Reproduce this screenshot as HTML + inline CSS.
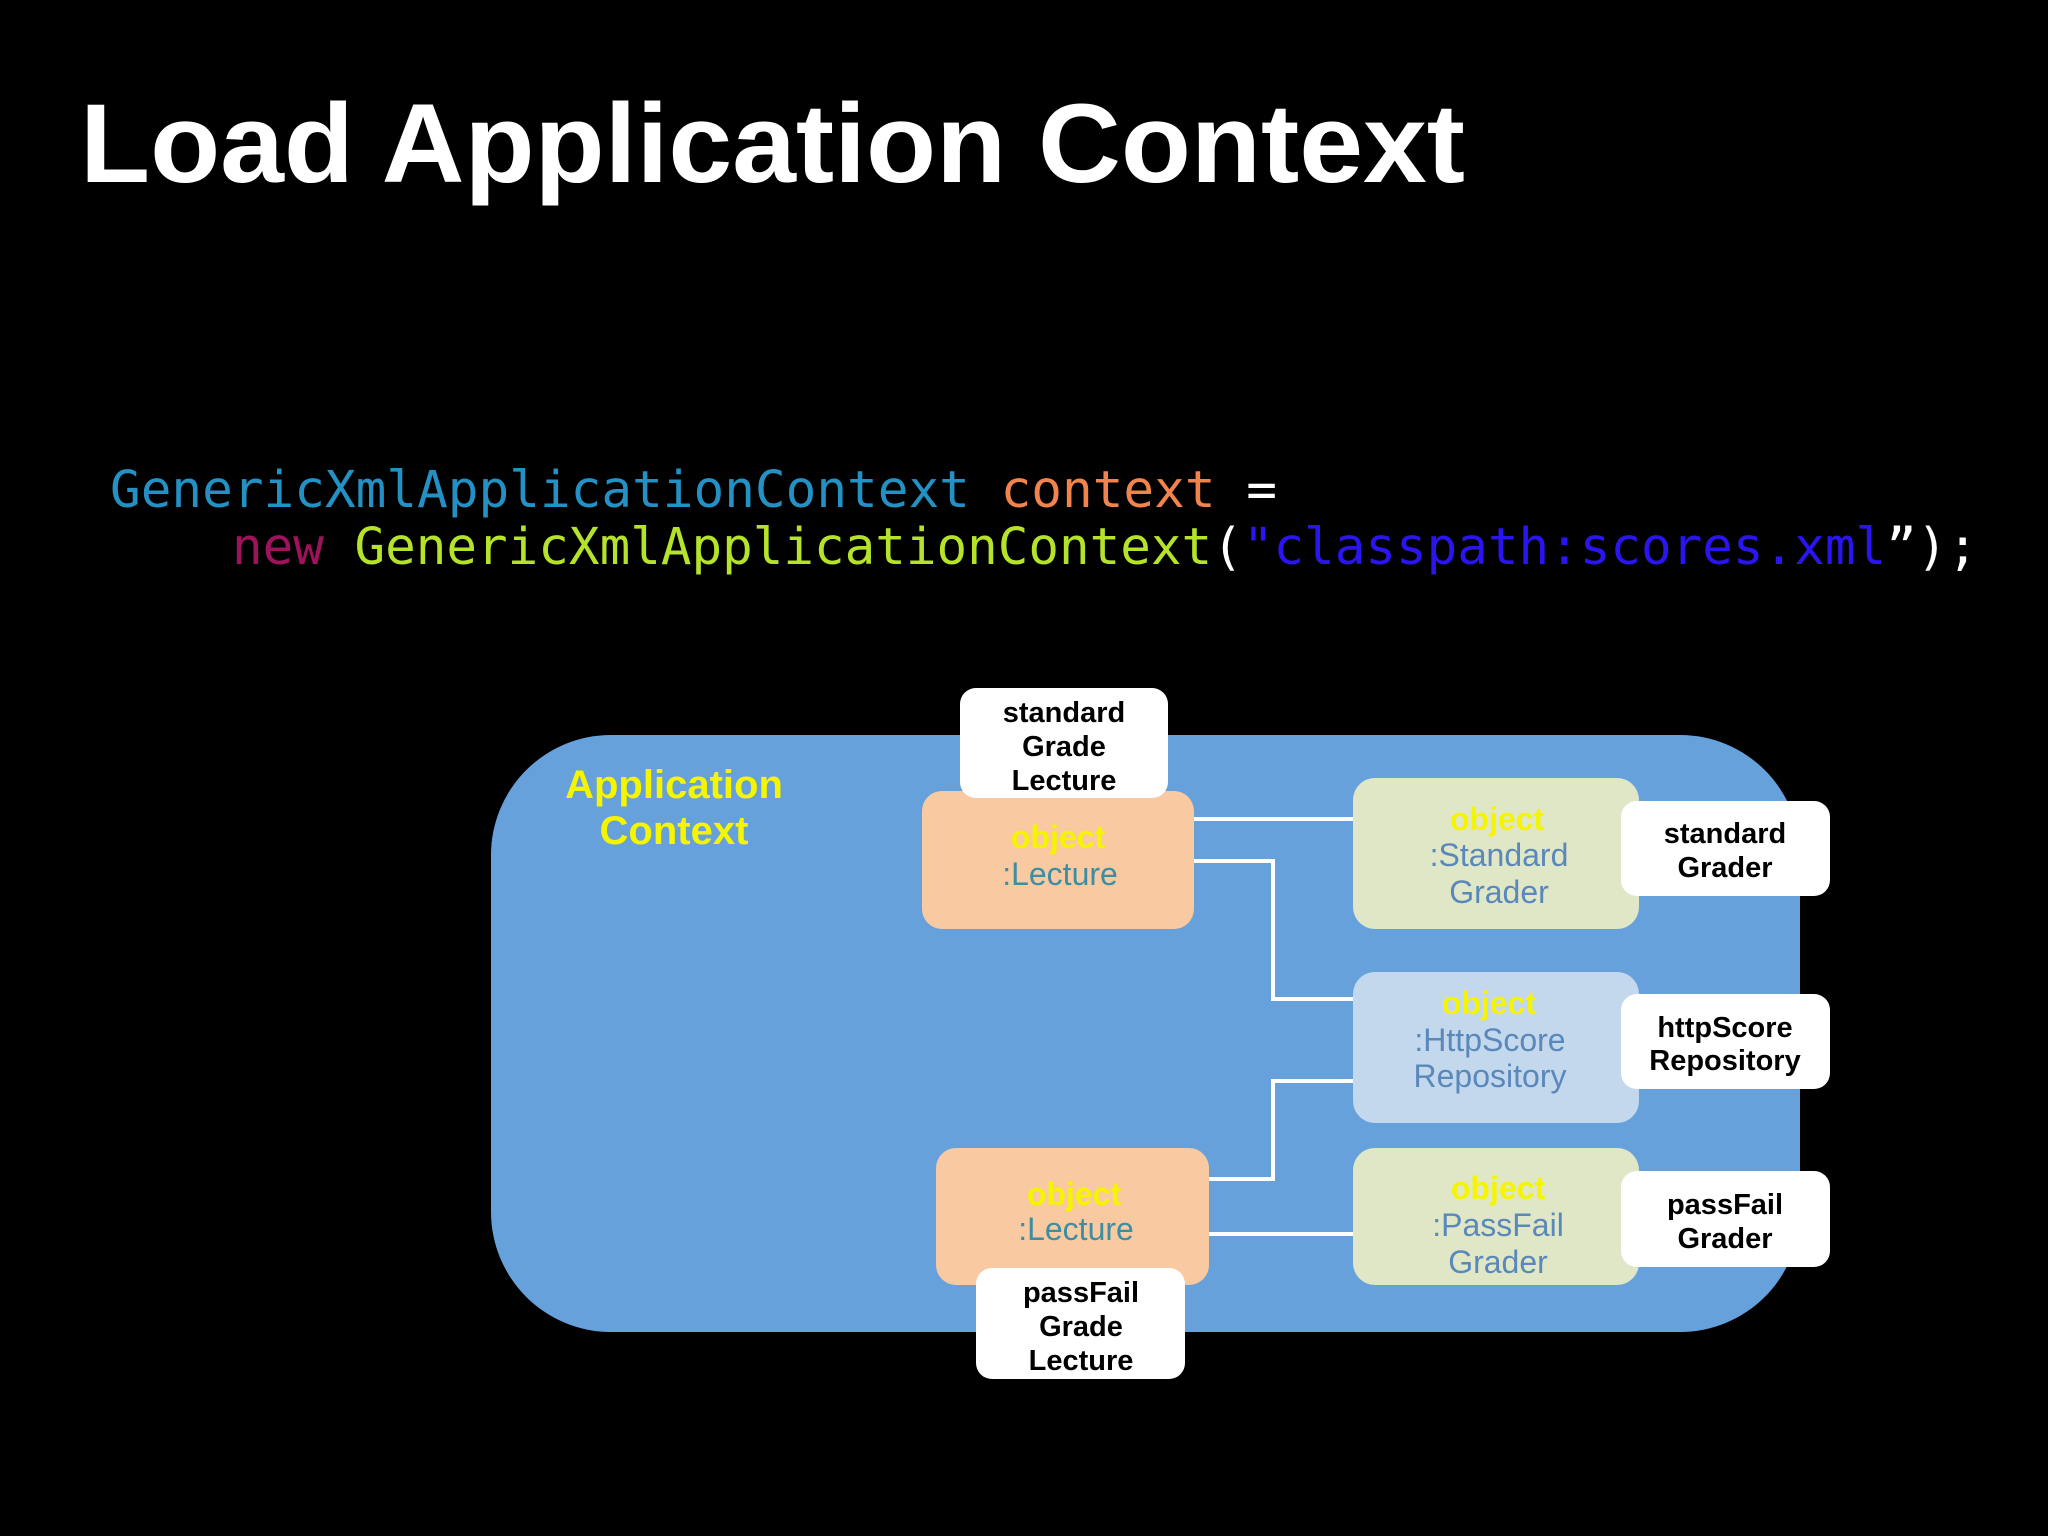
<!DOCTYPE html>
<html><head><meta charset="utf-8"><style>html,body{margin:0;padding:0;background:#000;}svg{display:block}</style></head>
<body>
<svg width="2048" height="1536" viewBox="0 0 2048 1536" xmlns="http://www.w3.org/2000/svg">
<rect width="2048" height="1536" fill="#000"/>
<text x="80" y="182" font-family="Liberation Sans, sans-serif" font-weight="bold" font-size="112" fill="#fff" textLength="1385" lengthAdjust="spacingAndGlyphs">Load Application Context</text>
<g font-family="DejaVu Sans Mono, monospace" font-size="51">
<text x="110" y="507" textLength="1167" lengthAdjust="spacingAndGlyphs" xml:space="preserve"><tspan fill="#2391c4">GenericXmlApplicationContext</tspan><tspan fill="#f0844c"> context</tspan><tspan fill="#fff"> =</tspan></text>
<text x="232" y="564" textLength="1746" lengthAdjust="spacingAndGlyphs" xml:space="preserve"><tspan fill="#a0125c">new</tspan><tspan fill="#b4e32a"> GenericXmlApplicationContext</tspan><tspan fill="#fff">(</tspan><tspan fill="#2a14f0">"classpath:scores.xml</tspan><tspan fill="#fff">”);</tspan></text>
</g>
<rect x="491" y="735" width="1309" height="597" rx="120" fill="#66a1dc"/>
<g font-family="Liberation Sans, sans-serif" font-weight="bold" text-anchor="middle">
<text x="674" y="798" font-size="40" fill="#f5f500">Application</text>
<text x="674" y="844" font-size="40" fill="#f5f500">Context</text>
<g stroke="#fff" stroke-width="4" fill="none">
<line x1="1194" y1="819" x2="1353" y2="819"/>
<polyline points="1194,861 1273,861 1273,999 1353,999"/>
<polyline points="1209,1179 1273,1179 1273,1081 1353,1081"/>
<line x1="1209" y1="1234" x2="1353" y2="1234"/>
</g>
<rect x="922" y="791" width="272" height="138" rx="20" fill="#f9c9a1"/>
<text x="1058" y="848" font-size="32" fill="#f5f500">object</text>
<text x="1060" y="885" font-size="32" fill="#3c8ea3" font-weight="500">:Lecture</text>
<rect x="936" y="1148" width="273" height="137" rx="20" fill="#f9c9a1"/>
<text x="1074" y="1205" font-size="32" fill="#f5f500">object</text>
<text x="1076" y="1240" font-size="32" fill="#3c8ea3" font-weight="500">:Lecture</text>
<rect x="1353" y="778" width="286" height="151" rx="22" fill="#dfe7c7"/>
<text x="1497" y="830" font-size="32" fill="#f5f500">object</text>
<text x="1499" y="866" font-size="32" fill="#5a88bb" font-weight="500">:Standard</text>
<text x="1499" y="903" font-size="32" fill="#5a88bb" font-weight="500">Grader</text>
<rect x="1353" y="972" width="286" height="151" rx="22" fill="#c3d8ec"/>
<text x="1489" y="1014" font-size="32" fill="#f5f500">object</text>
<text x="1490" y="1051" font-size="32" fill="#5a88bb" font-weight="500">:HttpScore</text>
<text x="1490" y="1087" font-size="32" fill="#5a88bb" font-weight="500">Repository</text>
<rect x="1353" y="1148" width="286" height="137" rx="22" fill="#dfe7c7"/>
<text x="1498" y="1199" font-size="32" fill="#f5f500">object</text>
<text x="1498" y="1236" font-size="32" fill="#5a88bb" font-weight="500">:PassFail</text>
<text x="1498" y="1273" font-size="32" fill="#5a88bb" font-weight="500">Grader</text>
<g fill="#fff">
<rect x="960" y="688" width="208" height="110" rx="16"/>
<rect x="976" y="1268" width="209" height="111" rx="16"/>
<rect x="1621" y="801" width="209" height="95" rx="16"/>
<rect x="1621" y="994" width="209" height="95" rx="16"/>
<rect x="1621" y="1171" width="209" height="96" rx="16"/>
</g>
<g font-size="29" fill="#000">
<text x="1064" y="722">standard</text>
<text x="1064" y="756">Grade</text>
<text x="1064" y="790">Lecture</text>
<text x="1081" y="1302">passFail</text>
<text x="1081" y="1336">Grade</text>
<text x="1081" y="1370">Lecture</text>
<text x="1725" y="843">standard</text>
<text x="1725" y="877">Grader</text>
<text x="1725" y="1037">httpScore</text>
<text x="1725" y="1070">Repository</text>
<text x="1725" y="1214">passFail</text>
<text x="1725" y="1248">Grader</text>
</g>
</g>
</svg>
</body></html>
